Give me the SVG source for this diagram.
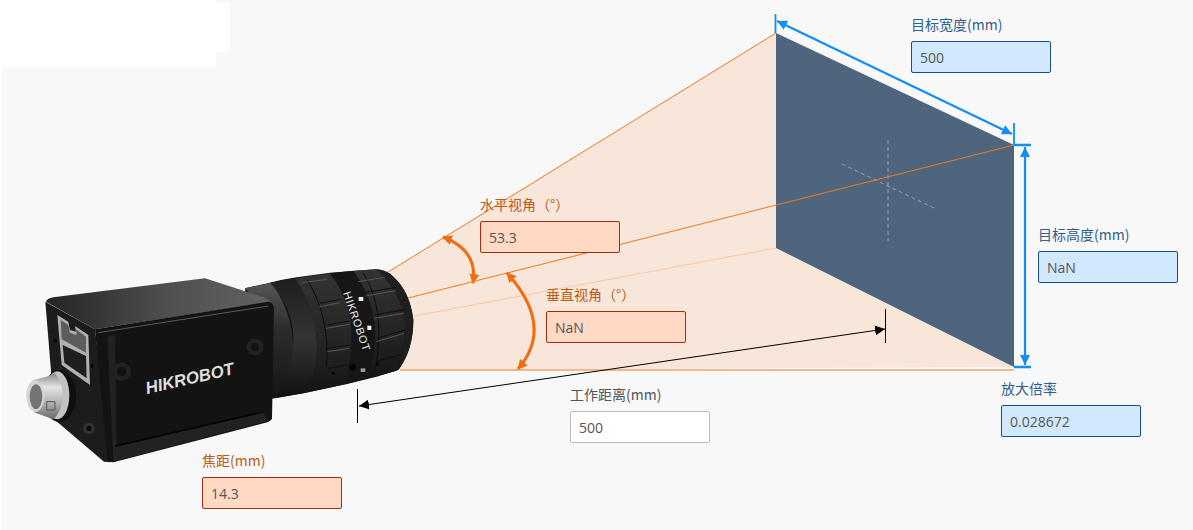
<svg xmlns="http://www.w3.org/2000/svg" width="1193" height="530" viewBox="0 0 1193 530">
<style>
text{font-family:"Noto Sans CJK SC","Noto Sans","Open Sans",sans-serif;font-size:14px}
.val{font-family:"Open Sans","Noto Sans",sans-serif;font-size:14px;fill:#555}
.lo{fill:#b85c1c}.lb{fill:#2f5f8f}.lk{fill:#555}
.bo{fill:#ffd9c4;stroke:#a52a14;stroke-width:1}
.bb{fill:#d2e9fd;stroke:#154f8f;stroke-width:1}
.bw{fill:#fff;stroke:#bbb;stroke-width:1}
.o{stroke:#ee7a22;stroke-width:1;fill:none}
.aa{stroke:#f26c12;stroke-width:3;fill:none}
.bl{stroke:#118ef0;fill:none}
.k{stroke:#000;fill:none}
.rib{stroke:#565656;stroke-width:3;fill:none}
.gap{stroke:#0d0d0d;stroke-width:3;fill:none}
</style>
<defs>
<marker id="ao" markerUnits="userSpaceOnUse" markerWidth="12" markerHeight="12" refX="9" refY="5" orient="auto-start-reverse"><path d="M0 0L10 5L0 10z" fill="#f26c12"/></marker>
<marker id="ab" markerUnits="userSpaceOnUse" markerWidth="12" markerHeight="12" refX="10" refY="5" orient="auto-start-reverse"><path d="M0 0L10 5L0 10z" fill="#118ef0"/></marker>
<marker id="ak" markerUnits="userSpaceOnUse" markerWidth="12" markerHeight="10" refX="10" refY="5" orient="auto-start-reverse"><path d="M0 0L10 5L0 10z" fill="#000"/></marker>
<linearGradient id="neck" x1="0" y1="0" x2="0" y2="1"><stop offset="0" stop-color="#565656"/><stop offset=".4" stop-color="#2c2c2c"/><stop offset="1" stop-color="#141414"/></linearGradient>
<linearGradient id="seg" x1="0" y1="0" x2="0" y2="1"><stop offset="0" stop-color="#1e1e1e"/><stop offset=".5" stop-color="#343434"/><stop offset="1" stop-color="#101010"/></linearGradient>
<linearGradient id="ring" x1="0" y1="0" x2="0" y2="1"><stop offset="0" stop-color="#333"/><stop offset=".6" stop-color="#242424"/><stop offset="1" stop-color="#151515"/></linearGradient>
<linearGradient id="top" x1="0" y1="0" x2="1" y2="0"><stop offset="0" stop-color="#242424"/><stop offset=".55" stop-color="#505050"/><stop offset="1" stop-color="#626262"/></linearGradient>
<linearGradient id="steel" x1="0" y1="0" x2="0" y2="1"><stop offset="0" stop-color="#8a8a8a"/><stop offset=".3" stop-color="#e4e4e4"/><stop offset=".65" stop-color="#b0b0b0"/><stop offset="1" stop-color="#6a6a6a"/></linearGradient>
</defs>
<rect width="1193" height="530" fill="#f8f8f8"/>
<path d="M0 0H216V3H230V52H216V67H2V530H0z" fill="#fff"/>

<g id="frustum">
<path d="M388 272L776 33L776 248L1014 145L1014 367L400 370z" fill="#f9e6da"/>
<path d="M776 33L1014 145V367L776 248z" fill="#4f647d"/>
<path d="M842 164L936 209M888 140V241" stroke="#98a3af" stroke-width="1" stroke-dasharray="4 3" fill="none"/>
</g>
<g id="connectors">
<path class="o" d="M388 272L776 33M408 298L1014 145M400 370H1014"/>
<path d="M414 316L776 248" stroke="#f6c7a6" fill="none"/>
<path class="aa" d="M443 237Q478 250 473 283" marker-start="url(#ao)" marker-end="url(#ao)"/>
<path class="aa" d="M507 273Q555 326 518 369" marker-start="url(#ao)" marker-end="url(#ao)"/>
<path class="k" d="M359 406L885 329" marker-start="url(#ak)" marker-end="url(#ak)"/>
<path class="k" d="M357.500 389V423M885.500 309V343"/>
<path class="bl" stroke-width="1.800" d="M775.500 14V33M1014 123V145"/>
<path class="bl" stroke-width="2.200" d="M777 21L1012 134" marker-start="url(#ab)" marker-end="url(#ab)"/>
<path class="bl" stroke-width="2.400" d="M1014 145H1031M1014 367H1031"/>
<path class="bl" stroke-width="2.200" d="M1025 147V365" marker-start="url(#ab)" marker-end="url(#ab)"/>
</g>

<g id="lens" transform="translate(220 260) scale(.33333)">
<path d="M75 85L150 68Q190 58 230 52L330 38L470 28Q500 30 520 50Q570 95 580 180Q580 270 535 330L470 350L380 372L250 400L160 415L100 300z" fill="#141414"/>
<path d="M75 85L155 68Q225 170 218 280Q205 360 165 415L120 420L120 130z" fill="url(#neck)"/>
<path d="M150 68L225 55Q300 170 290 290Q285 350 250 400L165 415Q215 340 220 250Q225 150 150 68z" fill="url(#seg)"/>
<path d="M225 55L330 40Q400 130 395 240Q392 300 380 372L250 400Q285 350 290 290Q300 170 225 55z" fill="url(#ring)"/>
<path d="M330 40L400 32Q470 130 465 240Q460 300 445 355L380 372Q392 300 395 240Q400 130 330 40z" fill="#161616"/>
<path d="M400 32L470 28Q545 100 555 190Q555 270 530 332L445 355Q460 300 465 240Q470 130 400 32z" fill="url(#ring)"/>
<path d="M470 28Q500 30 520 50Q570 95 580 180Q580 270 535 330Q555 270 555 190Q545 100 470 28z" fill="#1f1f1f"/>
<path class="gap" d="M262 60Q330 170 320 320M300 130L360 118M322 195L388 183M322 265L390 255M322 325L385 315M430 40Q500 150 465 330M437 98L528 82M462 165L552 150M470 235L555 210M466 305L540 285"/>
<path class="rib" d="M245 68L322 58M298 140L360 128M318 205L388 193M322 275L388 265M415 65L495 52M437 108L528 92M462 175L552 160M470 245L552 220"/>
<rect x="416" y="111" width="14" height="12" fill="#eee"/><rect x="442" y="197" width="12" height="13" fill="#eee"/><rect x="422" y="325" width="14" height="11" fill="#999"/>
<circle cx="398" cy="322" r="10" fill="#050505"/><circle cx="340" cy="340" r="5" fill="#050505"/><circle cx="473" cy="312" r="5" fill="#050505"/>
</g>
<text x="0" y="0" transform="translate(343 293) rotate(71)" textLength="62" style="font-family:'Liberation Sans',sans-serif;font-size:11px" fill="#e8e8e8">HIKROBOT</text>

<g id="camera" transform="translate(20 270) scale(.33333)">
<path d="M78 95Q82 85 100 82L555 25L729 81Q745 88 752 96L225 178z" fill="url(#top)"/>
<path d="M76 95L225 178L272 577L252 575L105 450z" fill="#1c1c1c"/>
<path d="M225 178L745 95Q762 100 762 115L756 445Q755 452 745 456L280 577Q268 578 262 565z" fill="#131313"/>
<path d="M262 200L285 195L290 530L728 426L745 452L280 575z" fill="#222"/>
<path d="M285 528L729 426" stroke="#050505" stroke-width="5" fill="none"/>
<path d="M235 188L745 108" stroke="#5a5a5a" stroke-width="3" fill="none"/>
<path d="M112 135L145 155L150 180L168 185L165 168L205 195L210 345L125 285z" fill="#b0b0b0"/>
<path d="M122 150L145 165L150 188L170 195L168 178L198 200L198 248L125 208z" fill="#5c5c5c"/>
<path d="M128 225L198 258L200 325L133 278z" fill="#1f1f1f"/>
<ellipse cx="118" cy="378" rx="50" ry="78" fill="#0e0e0e"/>
<ellipse cx="112" cy="376" rx="36" ry="72" fill="#c2c2c2"/>
<path d="M40 330Q80 322 105 310Q130 340 128 385Q122 430 100 448L45 428Q20 410 20 375Q20 345 40 330z" fill="url(#steel)"/>
<ellipse cx="46" cy="378" rx="27" ry="48" fill="#d5d5d5"/>
<ellipse cx="48" cy="380" rx="19" ry="37" fill="#747474"/>
<path d="M80 395H105V420H80z" fill="none" stroke="#555" stroke-width="3"/>
<circle cx="305" cy="305" r="28" fill="#222"/><circle cx="305" cy="305" r="14" fill="#111"/>
<circle cx="207" cy="475" r="17" fill="#333"/><circle cx="207" cy="475" r="8" fill="#0a0a0a"/>
<circle cx="106" cy="212" r="6" fill="#090909"/><circle cx="216" cy="288" r="6" fill="#090909"/>
</g>
<g id="screw"><circle cx="255" cy="347" r="8.500" fill="#222"/><circle cx="255" cy="347" r="4" fill="#111"/></g>
<text x="0" y="0" transform="translate(147 394) rotate(-12.800)" textLength="90" lengthAdjust="spacingAndGlyphs" style="font-family:'Liberation Sans',sans-serif;font-size:17px;font-weight:700;font-style:italic" fill="#dedede">HIKROBOT</text>

<g id="n-width"><text x="911" y="30" class="lb">目标宽度(mm)</text><rect x="911.500" y="41.500" width="139" height="31" rx="1.500" class="bb"/><text x="920" y="63" class="val">500</text></g>
<g id="n-height"><text x="1038" y="240" class="lb">目标高度(mm)</text><rect x="1038.500" y="251.500" width="139" height="31" rx="1.500" class="bb"/><text x="1047" y="273" class="val">NaN</text></g>
<g id="n-mag"><text x="1001" y="394" class="lb">放大倍率</text><rect x="1001.500" y="405.500" width="139" height="31" rx="1.500" class="bb"/><text x="1010" y="427" class="val">0.028672</text></g>
<g id="n-hfov"><text x="480" y="210" class="lo">水平视角（°）</text><rect x="480.500" y="221.500" width="139" height="31" rx="1.500" class="bo"/><text x="489" y="243" class="val">53.3</text></g>
<g id="n-vfov"><text x="546" y="300" class="lo">垂直视角（°）</text><rect x="546.500" y="311.500" width="139" height="31" rx="1.500" class="bo"/><text x="555" y="333" class="val">NaN</text></g>
<g id="n-wd"><text x="570" y="400" class="lk">工作距离(mm)</text><rect x="570.500" y="411.500" width="139" height="31" rx="1.500" class="bw"/><text x="579" y="433" class="val">500</text></g>
<g id="n-fl"><text x="202" y="466" class="lo">焦距(mm)</text><rect x="202.500" y="477.500" width="139" height="31" rx="1.500" class="bo"/><text x="211" y="499" class="val">14.3</text></g>
</svg>
